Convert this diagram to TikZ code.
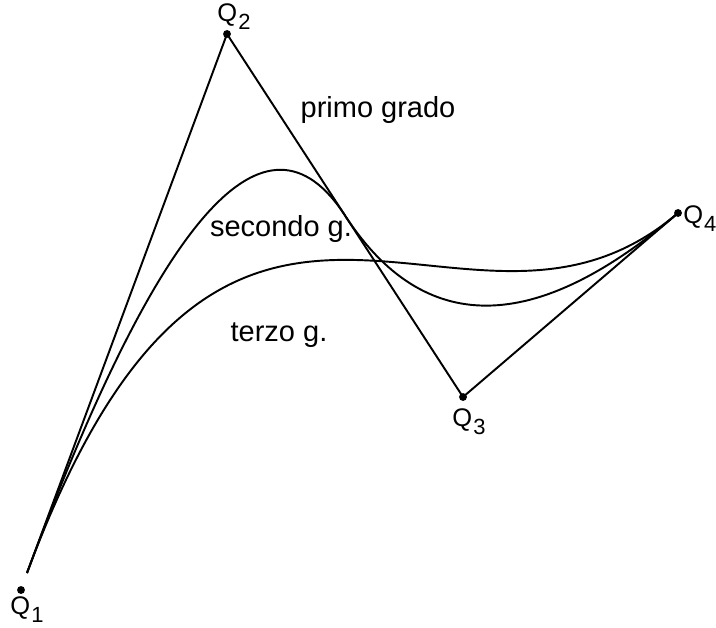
\documentclass[tikz,border=0pt]{standalone}
\usepackage{fontspec}
\setsansfont{Liberation Sans}
\usetikzlibrary{calc}

\newcommand{\qsub}[1]{Q\kern0.6pt\raisebox{-0.6ex}{\fontsize{12.5}{15}\selectfont #1}}

\begin{document}
\begin{tikzpicture}[x=0.02cm, y=-0.02cm,
    curve/.style={line width=1.1pt, black},
    pt/.style={circle, fill=black, inner sep=0pt, minimum size=4.5pt},
    lbl/.style={font=\sffamily\fontsize{16.5}{19}\selectfont},
    qlbl/.style={font=\sffamily\fontsize{14.5}{17}\selectfont, inner sep=0pt}]

\useasboundingbox (0,0) rectangle (716,628);

%---------------------------------------
% Control points
%---------------------------------------
\coordinate (Q1) at (27,573);
\coordinate (Q2) at (227,34);
\coordinate (Q3) at (463,397);
\coordinate (Q4) at (678,213);
\coordinate (M)  at ($(Q2)!0.5!(Q3)$);   % knot of the quadratic spline

% Markers
\node[pt] (d1) at (21,590) {};
\node[pt] (d2) at (Q2) {};
\node[pt] (d3) at (Q3) {};
\node[pt] (d4) at (Q4) {};

% Point labels
\node[qlbl] (l1) at (27,610) {\qsub{1}};
\node[qlbl] (l2) at (234,17) {\qsub{2}};
\node[qlbl] (l3) at (469,422) {\qsub{3}};
\node[qlbl, anchor=west] (l4) at (683,219) {\qsub{4}};

%---------------------------------------
% primo grado: control polygon
%---------------------------------------
\draw[curve] (Q1) -- (Q2) -- (Q3) -- (Q4);

%---------------------------------------
% secondo grado: two quadratic pieces
%---------------------------------------
\draw[curve] (Q1)
  .. controls ($(Q1)!2/3!(Q2)$) and ($(M)!2/3!(Q2)$) .. (M)
  .. controls ($(M)!2/3!(Q3)$) and ($(Q4)!2/3!(Q3)$) .. (Q4);

%---------------------------------------
% terzo grado: one cubic
%---------------------------------------
\draw[curve] (Q1) .. controls (Q2) and (Q3) .. (Q4);

% Curve names
\node[lbl] (t1) at (378,110) {primo grado};
\node[lbl] (t2) at (281,229) {secondo g.};
\node[lbl] (t3) at (279,335) {terzo g.};

\end{tikzpicture}
\end{document}
